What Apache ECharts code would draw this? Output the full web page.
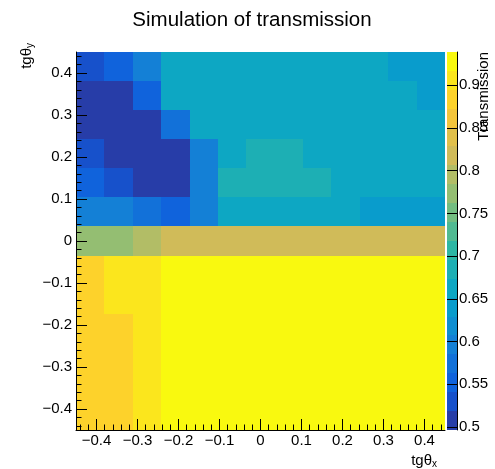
<!DOCTYPE html>
<html><head><meta charset="utf-8">
<script src="https://cdn.jsdelivr.net/npm/echarts@6/dist/echarts.min.js"></script>
<style>html,body{margin:0;padding:0;background:#fff}#c{width:495px;height:469px}</style>
</head><body><div id="c"></div>
<script>
// Histogram definition (13 x 13 bins over [-0.45, 0.45])
const xRange = [-0.45, 0.45];
const yRange = [-0.45, 0.45];
const nBinsX = 13;
const nBinsY = 13;

// Transmission values, rows listed from the top bin (tgθy ≈ 0.415) down to the bottom bin (≈ -0.415),
// columns from tgθx ≈ -0.415 to 0.415
const row0  = [0.530, 0.552, 0.596, 0.662, 0.662, 0.662, 0.662, 0.662, 0.662, 0.662, 0.662, 0.640, 0.640];
const row1  = [0.500, 0.500, 0.552, 0.662, 0.662, 0.662, 0.662, 0.662, 0.662, 0.662, 0.662, 0.662, 0.640];
const row2  = [0.500, 0.500, 0.500, 0.574, 0.662, 0.662, 0.662, 0.662, 0.662, 0.662, 0.662, 0.662, 0.662];
const row3  = [0.530, 0.500, 0.500, 0.500, 0.596, 0.662, 0.685, 0.685, 0.662, 0.662, 0.662, 0.662, 0.662];
const row4  = [0.552, 0.530, 0.500, 0.500, 0.596, 0.685, 0.685, 0.685, 0.685, 0.662, 0.662, 0.662, 0.662];
const row5  = [0.596, 0.596, 0.574, 0.552, 0.596, 0.662, 0.662, 0.662, 0.662, 0.662, 0.640, 0.640, 0.640];
const row6  = [0.773, 0.773, 0.795, 0.817, 0.817, 0.817, 0.817, 0.817, 0.817, 0.817, 0.817, 0.817, 0.817];
const row7  = [0.884, 0.906, 0.906, 0.935, 0.935, 0.935, 0.935, 0.935, 0.935, 0.935, 0.935, 0.935, 0.935];
const row8  = [0.884, 0.906, 0.906, 0.935, 0.935, 0.935, 0.935, 0.935, 0.935, 0.935, 0.935, 0.935, 0.935];
const row9  = [0.884, 0.884, 0.906, 0.935, 0.935, 0.935, 0.935, 0.935, 0.935, 0.935, 0.935, 0.935, 0.935];
const row10 = [0.884, 0.884, 0.906, 0.935, 0.935, 0.935, 0.935, 0.935, 0.935, 0.935, 0.935, 0.935, 0.935];
const row11 = [0.884, 0.884, 0.906, 0.935, 0.935, 0.935, 0.935, 0.935, 0.935, 0.935, 0.935, 0.935, 0.935];
const row12 = [0.884, 0.884, 0.906, 0.935, 0.935, 0.935, 0.935, 0.935, 0.935, 0.935, 0.935, 0.935, 0.935];
const rowsTopToBottom = [row0,row1,row2,row3,row4,row5,row6,row7,row8,row9,row10,row11,row12];

// Color scale
const zRange = [0.4965, 0.939];
const nContours = 20;

// Tick labels
const xTickValues = [-0.4, -0.3, -0.2, -0.1, 0, 0.1, 0.2, 0.3, 0.4];
const yTickValues = [-0.4, -0.3, -0.2, -0.1, 0, 0.1, 0.2, 0.3, 0.4];
const zTickValues = [0.5, 0.55, 0.6, 0.65, 0.7, 0.75, 0.8, 0.85, 0.9];
const minorStep = 0.02;

// ROOT kBird palette
const birdStops = [0, 0.125, 0.25, 0.375, 0.5, 0.625, 0.75, 0.875, 1];
const birdR = [0.2082, 0.0592, 0.0780, 0.0232, 0.1802, 0.5301, 0.8186, 0.9956, 0.9764];
const birdG = [0.1664, 0.3599, 0.5041, 0.6419, 0.7178, 0.7492, 0.7328, 0.7862, 0.9832];
const birdB = [0.5293, 0.8684, 0.8385, 0.7914, 0.6425, 0.4662, 0.3499, 0.1968, 0.0539];

function birdColor(f) {
  let k = 0;
  while (k < birdStops.length - 2 && f > birdStops[k + 1]) k++;
  const t = (f - birdStops[k]) / (birdStops[k + 1] - birdStops[k]);
  const c = (a) => Math.round(255 * (a[k] + t * (a[k + 1] - a[k])));
  return 'rgb(' + c(birdR) + ',' + c(birdG) + ',' + c(birdB) + ')';
}
function levelColor(i) {
  const idx = Math.floor((i + 0.99) * 255 / nContours);
  return birdColor(idx / 255);
}
function levelOf(v) {
  let i = Math.floor((v - zRange[0]) / (zRange[1] - zRange[0]) * nContours);
  return Math.max(0, Math.min(nContours - 1, i));
}

const bw = (xRange[1] - xRange[0]) / nBinsX;
const bh = (yRange[1] - yRange[0]) / nBinsY;
const cells = [];
rowsTopToBottom.forEach((row, r) => {
  const j = nBinsY - 1 - r;
  row.forEach((v, i) => {
    const x0 = xRange[0] + i * bw, y0 = yRange[0] + j * bh;
    cells.push([x0, x0 + bw, y0, y0 + bh, v]);
  });
});
const bands = [];
for (let i = 0; i < nContours; i++) {
  const lo = zRange[0] + i * (zRange[1] - zRange[0]) / nContours;
  const hi = zRange[0] + (i + 1) * (zRange[1] - zRange[0]) / nContours;
  bands.push([0, 1, lo, hi, i]);
}
const minorTicks = [];
for (let k = -22; k <= 22; k++) minorTicks.push(Math.round(k * minorStep * 1000) / 1000);

const FONT = '"Liberation Sans", Arial, Helvetica, sans-serif';
const fmt = (v) => (v < 0 ? '\u2212' + String(Math.abs(v)) : String(v));

function rectItem(params, api, color) {
  const p1 = api.coord([api.value(0), api.value(3)]);
  const p2 = api.coord([api.value(1), api.value(2)]);
  const x1 = Math.round(p1[0]), y1 = Math.round(p1[1]);
  const x2 = Math.round(p2[0]), y2 = Math.round(p2[1]);
  return {
    type: 'rect',
    shape: { x: x1, y: y1, width: x2 - x1, height: y2 - y1 },
    style: { fill: color }
  };
}

const chart = echarts.init(document.getElementById('c'), null, { renderer: 'canvas' });
const axisCommon = {
  type: 'value', z: 10, splitLine: { show: false }, minorTick: { show: false }
};
chart.setOption({
  animation: false,
  backgroundColor: '#fff',
  grid: [
    { left: 76, top: 52, width: 369, height: 378 },
    { left: 447, top: 52, width: 10, height: 378 }
  ],
  xAxis: [
    Object.assign({}, axisCommon, {
      gridIndex: 0, position: 'bottom', min: xRange[0], max: xRange[1],
      axisLine: { show: true, onZero: false, lineStyle: { color: '#000', width: 1 } },
      axisTick: { show: true, inside: true, length: 11, customValues: xTickValues, lineStyle: { color: '#000' } },
      axisLabel: { show: true, customValues: xTickValues, formatter: fmt, fontSize: 15, fontFamily: FONT, color: '#000', margin: 3 }
    }),
    Object.assign({}, axisCommon, {
      gridIndex: 0, position: 'bottom', min: xRange[0], max: xRange[1],
      axisLine: { show: false, onZero: false },
      axisTick: { show: true, inside: true, length: 5.5, customValues: minorTicks, lineStyle: { color: '#000' } },
      axisLabel: { show: false }
    }),
    Object.assign({}, axisCommon, {
      gridIndex: 1, min: 0, max: 1, show: false, axisLine: { onZero: false }
    })
  ],
  yAxis: [
    Object.assign({}, axisCommon, {
      gridIndex: 0, position: 'left', min: yRange[0], max: yRange[1],
      axisLine: { show: true, onZero: false, lineStyle: { color: '#000', width: 1 } },
      axisTick: { show: true, inside: true, length: 11, customValues: yTickValues, lineStyle: { color: '#000' } },
      axisLabel: { show: true, customValues: yTickValues, formatter: fmt, fontSize: 15, fontFamily: FONT, color: '#000', margin: 4 }
    }),
    Object.assign({}, axisCommon, {
      gridIndex: 0, position: 'left', min: yRange[0], max: yRange[1],
      axisLine: { show: false, onZero: false },
      axisTick: { show: true, inside: true, length: 5.5, customValues: minorTicks, lineStyle: { color: '#000' } },
      axisLabel: { show: false }
    }),
    Object.assign({}, axisCommon, {
      gridIndex: 1, position: 'right', min: zRange[0], max: zRange[1],
      axisLine: { show: true, onZero: false, lineStyle: { color: '#000', width: 1 } },
      axisTick: { show: true, inside: true, length: 10, customValues: zTickValues, lineStyle: { color: '#000' } },
      axisLabel: { show: true, customValues: zTickValues, formatter: (v) => String(v), fontSize: 15, fontFamily: FONT, color: '#000', margin: 2 }
    })
  ],
  series: [
    {
      type: 'custom', xAxisIndex: 0, yAxisIndex: 0, clip: true,
      encode: { x: [0, 1], y: [2, 3] },
      data: cells,
      renderItem: (params, api) => rectItem(params, api, levelColor(levelOf(api.value(4))))
    },
    {
      type: 'custom', xAxisIndex: 2, yAxisIndex: 2, clip: true,
      encode: { x: [0, 1], y: [2, 3] },
      data: bands,
      renderItem: (params, api) => rectItem(params, api, levelColor(api.value(4)))
    }
  ],
  graphic: [
    { type: 'text', x: 252, y: 20, style: { text: 'Simulation of transmission', fontSize: 20.5, fontFamily: FONT, fill: '#000', align: 'center', verticalAlign: 'middle' } },
    { type: 'text', x: 437, y: 461, style: { text: '{m|tgθ}{s|x}', align: 'right', verticalAlign: 'middle',
        rich: { m: { fontSize: 15, fontFamily: FONT, fill: '#000', lineHeight: 17 }, s: { fontSize: 10, fontFamily: FONT, fill: '#000', verticalAlign: 'bottom', lineHeight: 12 } } } },
    { type: 'text', x: 27, y: 43, rotation: Math.PI / 2, style: { text: '{m|tgθ}{s|y}', align: 'right', verticalAlign: 'middle',
        rich: { m: { fontSize: 15, fontFamily: FONT, fill: '#000', lineHeight: 17 }, s: { fontSize: 10, fontFamily: FONT, fill: '#000', verticalAlign: 'bottom', lineHeight: 12 } } } },
    { type: 'text', x: 484, y: 52, rotation: Math.PI / 2, style: { text: 'Transmission', fontSize: 15, fontFamily: FONT, fill: '#000', align: 'right', verticalAlign: 'middle' } }
  ]
});
</script></body></html>
